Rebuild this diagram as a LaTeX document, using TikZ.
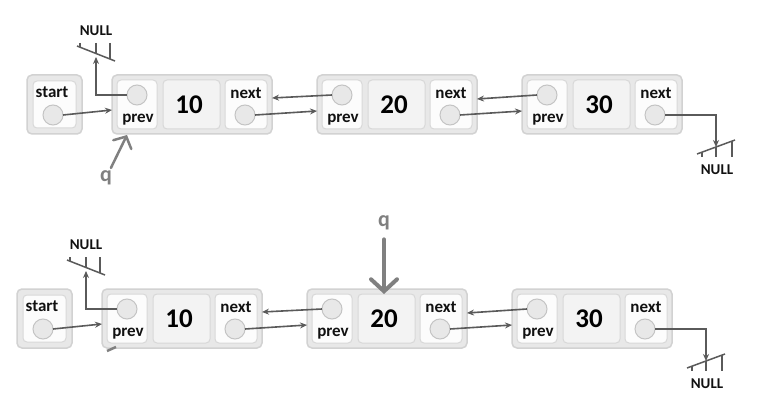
\documentclass[tikz,border=0pt]{standalone}
\usepackage{fontspec}
\setmainfont{Carlito}
\usetikzlibrary{arrows.meta}
\definecolor{boxfill}{HTML}{E8E8E8}
\definecolor{boxline}{HTML}{D2D2D2}
\definecolor{cellline}{HTML}{D8D8D8}
\definecolor{cellA}{HTML}{FCFCFC}
\definecolor{cellB}{HTML}{F3F3F3}
\definecolor{circfill}{HTML}{E8E8E8}
\definecolor{circline}{HTML}{C4C4C4}
\definecolor{linkc}{HTML}{5A5A5A}
\definecolor{qgray}{HTML}{808080}
\definecolor{txt}{HTML}{111111}
\tikzset{
 outerbox/.style={draw=boxline, fill=boxfill, line width=1.5pt, rounded corners=5pt, minimum height=59pt, inner sep=0pt, outer sep=0pt},
 cellbox/.style={draw=cellline, line width=1pt, rounded corners=4pt, minimum height=49pt, inner sep=0pt, outer sep=0pt},
 ptrcirc/.style={circle, draw=circline, fill=circfill, line width=1pt, minimum size=20pt, inner sep=0pt, outer sep=0pt},
 lbl/.style={font=\bfseries\fontsize{17}{17}\selectfont, text=txt, inner sep=0pt},
 val/.style={font=\bfseries\fontsize{27}{27}\selectfont, text=black, inner sep=0pt},
 nulltxt/.style={font=\bfseries\fontsize{15}{15}\selectfont, text=txt, inner sep=0pt},
 ptr/.style={draw=linkc, line width=1.6pt, -{Stealth[length=7pt,width=6pt]}},
 hatch/.style={draw=linkc, line width=1.5pt},
 qtxt/.style={font=\bfseries\fontsize{22}{22}\selectfont, text=qgray, inner sep=0pt},
 qarrow/.style={draw=qgray, line cap=round},
}
\newcommand\dllnode[4]{%
 \node[outerbox, minimum width=160pt, anchor=north west] (#1) at (#2,#3) {};
 \node[cellbox, fill=cellA, minimum width=40pt, anchor=north west] (#1pc) at (#2+5,#3+5) {};
 \node[cellbox, fill=cellB, minimum width=57pt, anchor=north west] (#1vc) at (#2+51,#3+5) {};
 \node[cellbox, fill=cellA, minimum width=42pt, anchor=north west] (#1nc) at (#2+113,#3+5) {};
 \node[ptrcirc] (#1p) at (#2+25,#3+20) {};
 \node[ptrcirc] (#1n) at (#2+133,#3+40) {};
 \node[lbl] (#1pl) at (#2+26,#3+45) {prev};
 \node[lbl] (#1nl) at (#2+134,#3+18) {next};
 \node[val] (#1v) at (#2+77,#3+30) {#4};
}
\newcommand\startbox[3]{%
 \node[outerbox, minimum width=55pt, anchor=north west] (#1) at (#2,#3) {};
 \node[cellbox, fill=cellA, minimum width=43pt, minimum height=47pt, anchor=north west] (#1c) at (#2+6,#3+6) {};
 \node[ptrcirc] (#1p) at (#2+26,#3+40) {};
 \node[lbl] (#1l) at (#2+25,#3+17) {start};
}
\newcommand\dllrow[1]{%
 \startbox{#1s}{27}{75}
 \dllnode{#1a}{112}{75}{10}
 \dllnode{#1b}{317}{75}{20}
 \dllnode{#1c}{522}{75}{30}
 \draw[ptr] (#1sp.east) -- ([yshift=-5.5pt]#1a.west);
 \draw[ptr] (#1an.east) -- ([yshift=-6.5pt]#1b.west);
 \draw[ptr] (#1bp.west) -- ([yshift=6.5pt]#1a.east);
 \draw[ptr] (#1bn.east) -- ([yshift=-6.5pt]#1c.west);
 \draw[ptr] (#1cp.west) -- ([yshift=5.5pt]#1b.east);
 % left NULL
 \node[nulltxt] (#1nulla) at (96,31) {NULL};
 \coordinate (#1gl) at (96,57);
 \draw[ptr] (#1ap.west) -| (#1gl);
 \draw[hatch] (77,46) -- (115,61);
 \draw[hatch] (80,43) -- (80,47.2);
 \draw[hatch] (96,43) -- (96,53.5);
 \draw[hatch] (110,43) -- (110,59);
 % right NULL
 \node[nulltxt] (#1nullb) at (717,170) {NULL};
 \coordinate (#1gr) at (716,147);
 \draw[ptr] (#1cn.east) -| (#1gr);
 \draw[hatch] (697,154) -- (735,140);
 \draw[hatch] (702,152.2) -- (702,157);
 \draw[hatch] (716,147) -- (716,157);
 \draw[hatch] (732,141.1) -- (732,157);
}
\begin{document}
\begin{tikzpicture}[x=1pt,y=-1pt]
\fill[white] (0,0) rectangle (760,414);
\useasboundingbox (0,0) rectangle (760,414);
\begin{scope}
\dllrow{t}
\end{scope}
\begin{scope}[shift={(-10,214)}]
\dllrow{b}
\end{scope}
% q pointers
\node[qtxt] (tq) at (106,178) {q};
\coordinate (tqe) at (127,135);
\draw[qarrow, line width=2.5pt, -{Straight Barb[length=9pt,width=20pt,line cap=round]}, shorten <=3pt] (tq) -- (tqe);
\node[qtxt] (bq) at (384,223) {q};
\draw[qarrow, line width=4pt, -{Straight Barb[length=12pt,width=26pt,line cap=round]}, shorten <=9pt] (bq.south) -- (bq.south |- bavc.north);
\draw[qgray, line width=2.5pt] (107,351) -- (116,347);
\end{tikzpicture}
\end{document}
